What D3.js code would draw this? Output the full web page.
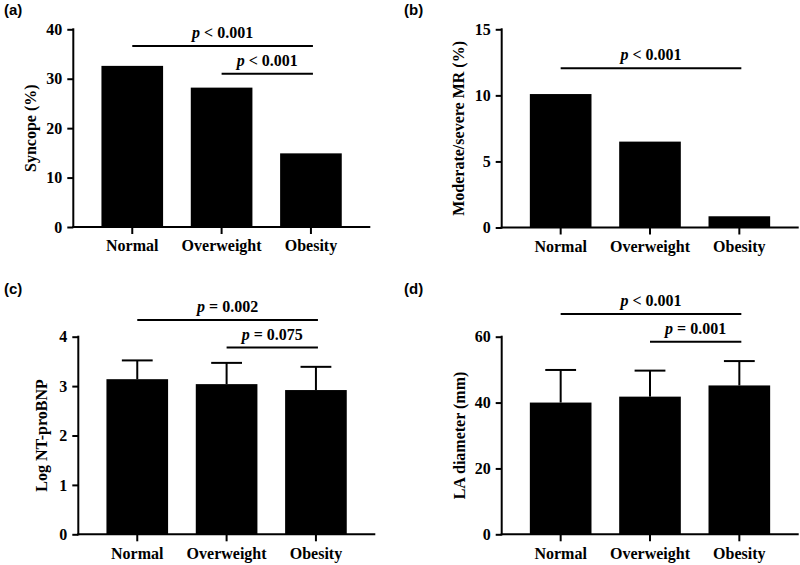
<!DOCTYPE html>
<html>
<head>
<meta charset="utf-8">
<script src="https://cdn.jsdelivr.net/npm/d3@7"></script>
<style>
  html, body { margin: 0; padding: 0; background: #fff; }
  svg { display: block; }
  .tick text { font-family: "Liberation Serif", "Times New Roman", serif; font-weight: bold; font-size: 16px; fill: #000; }
</style>
</head>
<body>
<svg id="chart" width="800" height="565"></svg>
<script>
// ---------- data ----------
const categories = ["Normal", "Overweight", "Obesity"];

const syncopePct = [32.6, 28.2, 14.9];
const moderateSevereMRPct = [10.1, 6.5, 0.85];
const logNtProBnpMean = [3.14, 3.04, 2.92];
const logNtProBnpSD = [0.38, 0.43, 0.47];
const laDiameterMean = [40.0, 41.8, 45.2];
const laDiameterSD = [9.9, 7.9, 7.4];

const ticksA = [0, 10, 20, 30, 40];
const ticksB = [0, 5, 10, 15];
const ticksC = [0, 1, 2, 3, 4];
const ticksD = [0, 20, 40, 60];

// significance comparisons: [from, to, level (data units), operator, p]
const sigA = [["Normal", "Obesity", 36.6, "<", "0.001"], ["Overweight", "Obesity", 31.0, "<", "0.001"]];
const sigB = [["Normal", "Obesity", 12.05, "<", "0.001"]];
const sigC = [["Normal", "Obesity", 4.34, "=", "0.002"], ["Overweight", "Obesity", 3.78, "=", "0.075"]];
const sigD = [["Normal", "Obesity", 66.9, "<", "0.001"], ["Overweight", "Obesity", 58.5, "=", "0.001"]];

// ---------- layout ----------
const panels = [
  { tag: "(a)", tagX: 4, tagY: 15, x0: 73.3, yTop: 29.3, yBot: 227, max: 40, ticks: ticksA,
    values: syncopePct, errors: null, sig: sigA, title: "Syncope (%)", titleDx: -37 },
  { tag: "(b)", tagX: 404, tagY: 15, x0: 501.7, yTop: 29.3, yBot: 227.5, max: 15, ticks: ticksB,
    values: moderateSevereMRPct, errors: null, sig: sigB, title: "Moderate/severe MR (%)", titleDx: -37.5 },
  { tag: "(c)", tagX: 4, tagY: 294, x0: 78.3, yTop: 336.7, yBot: 534.3, max: 4, ticks: ticksC,
    values: logNtProBnpMean, errors: logNtProBnpSD, sig: sigC, title: "Log NT-proBNP", titleDx: -31.5 },
  { tag: "(d)", tagX: 404, tagY: 294, x0: 501.7, yTop: 336.7, yBot: 534.3, max: 60, ticks: ticksD,
    values: laDiameterMean, errors: laDiameterSD, sig: sigD, title: "LA diameter (mm)", titleDx: -37 }
];

const serif = '"Liberation Serif", "Times New Roman", serif';
const sans = '"Liberation Sans", Arial, sans-serif';
const axisLen = 297;

const svg = d3.select("#chart");

panels.forEach(p => {
  // panel tag
  svg.append("text")
    .attr("x", p.tagX).attr("y", p.tagY)
    .attr("font-family", sans).attr("font-weight", "bold").attr("font-size", 15)
    .text(p.tag);

  const g = svg.append("g").attr("transform", `translate(${p.x0},0)`);

  const x = d3.scaleBand().domain(categories).range([14.3, 282.3])
    .paddingInner(0.31).paddingOuter(0.155);
  const y = d3.scaleLinear().domain([0, p.max]).range([p.yBot, p.yTop]);

  // bars
  g.selectAll("rect.bar").data(categories).join("rect")
    .attr("class", "bar")
    .attr("x", d => x(d))
    .attr("width", x.bandwidth())
    .attr("y", (d, i) => y(p.values[i]))
    .attr("height", (d, i) => y(0) - y(p.values[i]))
    .attr("fill", "#000");

  // error bars (upper)
  if (p.errors) {
    const capW = x.bandwidth() / 2;
    categories.forEach((c, i) => {
      const cx = x(c) + x.bandwidth() / 2;
      const top = y(p.values[i] + p.errors[i]);
      g.append("line").attr("x1", cx).attr("x2", cx)
        .attr("y1", y(p.values[i])).attr("y2", top)
        .attr("stroke", "#000").attr("stroke-width", 2);
      g.append("line").attr("x1", cx - capW / 2).attr("x2", cx + capW / 2)
        .attr("y1", top).attr("y2", top)
        .attr("stroke", "#000").attr("stroke-width", 2);
    });
  }

  // y axis
  const yAxis = g.append("g")
    .call(d3.axisLeft(y).tickValues(p.ticks).tickSize(6).tickPadding(5).tickFormat(d3.format("d")));
  yAxis.select(".domain").remove();
  yAxis.selectAll(".tick line").attr("stroke", "#000").attr("stroke-width", 2);
  g.append("line").attr("x1", 0).attr("x2", 0).attr("y1", p.yTop - 1).attr("y2", p.yBot + 1)
    .attr("stroke", "#000").attr("stroke-width", 2);

  // x axis
  const xAxis = g.append("g").attr("transform", `translate(0,${p.yBot})`)
    .call(d3.axisBottom(x).tickSize(7).tickPadding(6));
  xAxis.select(".domain").remove();
  xAxis.selectAll(".tick line").attr("stroke", "#000").attr("stroke-width", 2);
  g.append("line").attr("x1", -1).attr("x2", axisLen).attr("y1", p.yBot).attr("y2", p.yBot)
    .attr("stroke", "#000").attr("stroke-width", 2);

  // y title
  g.append("text")
    .attr("transform", `translate(${p.titleDx},${(p.yTop + p.yBot) / 2}) rotate(-90)`)
    .attr("text-anchor", "middle")
    .attr("font-family", serif).attr("font-weight", "bold").attr("font-size", 16)
    .text(p.title);

  // significance brackets
  p.sig.forEach(s => {
    const xa = x(s[0]) + x.bandwidth() / 2;
    const xb = x(s[1]) + x.bandwidth() / 2 + 2;
    const ly = y(s[2]);
    g.append("line").attr("x1", xa).attr("x2", xb).attr("y1", ly).attr("y2", ly)
      .attr("stroke", "#000").attr("stroke-width", 2);
    const t = g.append("text")
      .attr("x", (xa + xb) / 2).attr("y", ly - 8)
      .attr("text-anchor", "middle")
      .attr("font-family", serif).attr("font-weight", "bold").attr("font-size", 16);
    t.append("tspan").attr("font-style", "italic").text("p");
    t.append("tspan").text(` ${s[3]} ${s[4]}`);
  });
});
</script>
</body>
</html>
